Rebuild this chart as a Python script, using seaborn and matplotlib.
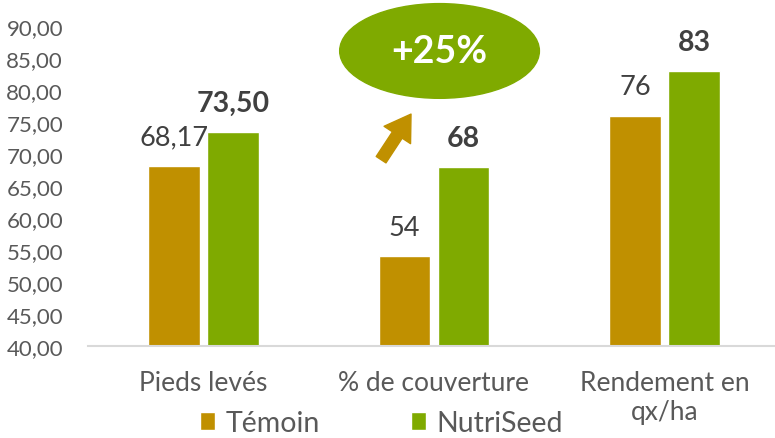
import numpy as np
import pandas as pd
import matplotlib
matplotlib.use("Agg")
import matplotlib.pyplot as plt
from matplotlib.patches import Ellipse, FancyArrowPatch
import seaborn as sns

categories = ["Pieds levés", "% de couverture", "Rendement en\nqx/ha"]
series = ["Témoin", "NutriSeed"]
temoin = [68.17, 54, 76]
nutriseed = [73.50, 68, 83]
temoin_labels = ["68,17", "54", "76"]
nutriseed_labels = ["73,50", "68", "83"]
yticks = np.arange(40, 91, 5)
badge = "+25%"

colors = {"Témoin": "#C09000", "NutriSeed": "#7FAA00"}

df = pd.DataFrame({
    "cat": categories * 2,
    "serie": [series[0]] * 3 + [series[1]] * 3,
    "val": temoin + nutriseed,
})

sns.set_style("white")
plt.rcParams["font.family"] = ["Lato", "DejaVu Sans"]

fig = plt.figure(figsize=(7.75, 4.39), dpi=100)
ax = fig.add_axes([88 / 775, 92 / 439, 692 / 775, 320 / 439])

sns.barplot(data=df, x="cat", y="val", hue="serie", palette=colors,
            width=0.51, gap=0.12, ax=ax, saturation=1, legend=True)

ax.set_ylim(40, 90)
ax.set_xlim(-0.5, 2.5)
ax.set_yticks(yticks)
ax.set_yticklabels([f"{v:.2f}".replace(".", ",") for v in yticks])
ax.tick_params(axis="y", labelsize=16, colors="#595959", length=0, pad=18)
ax.tick_params(axis="x", labelsize=19, colors="#595959", length=0, pad=17)
ax.set_xlabel("")
ax.set_ylabel("")
for s in ["top", "right", "left"]:
    ax.spines[s].set_visible(False)
ax.spines["bottom"].set_color("#D9D9D9")
ax.spines["bottom"].set_linewidth(1.5)

# value labels above each bar
for bars, vals, labs, bold in [(ax.containers[0], temoin, temoin_labels, False),
                               (ax.containers[1], nutriseed, nutriseed_labels, True)]:
    for b, v, t in zip(bars, vals, labs):
        ax.annotate(t, (b.get_x() + b.get_width() / 2, v),
                    xytext=(0, 21), textcoords="offset points", ha="center",
                    va="center", fontsize=20.5 if bold else 19.5,
                    fontweight="bold" if bold else "normal", color="#404040")

# +25% badge and arrow
ell = Ellipse((1.024, 86.1), 0.866, 14.8, color="#7FAA00", clip_on=False, zorder=5)
ax.add_patch(ell)
ax.text(1.024, 86.1, badge, ha="center", va="center", fontsize=27,
        fontweight="bold", color="white", zorder=6)
arr = FancyArrowPatch((0.764, 68.75), (0.907, 76.6),
                      arrowstyle="simple,head_width=1.9,head_length=1.5,tail_width=0.7",
                      mutation_scale=12, color="#C09000", clip_on=False, zorder=5)
ax.add_patch(arr)

handles, labels = ax.get_legend_handles_labels()
ax.legend_.remove()
fig.legend(handles, labels, loc="center", bbox_to_anchor=(0.492, 0.034),
           ncol=2, frameon=False, fontsize=20.5, handlelength=0.55,
           handleheight=0.55, handletextpad=0.35, columnspacing=3.2,
           borderpad=0.1, labelcolor="#595959")

fig.savefig("out.png", dpi=100)
